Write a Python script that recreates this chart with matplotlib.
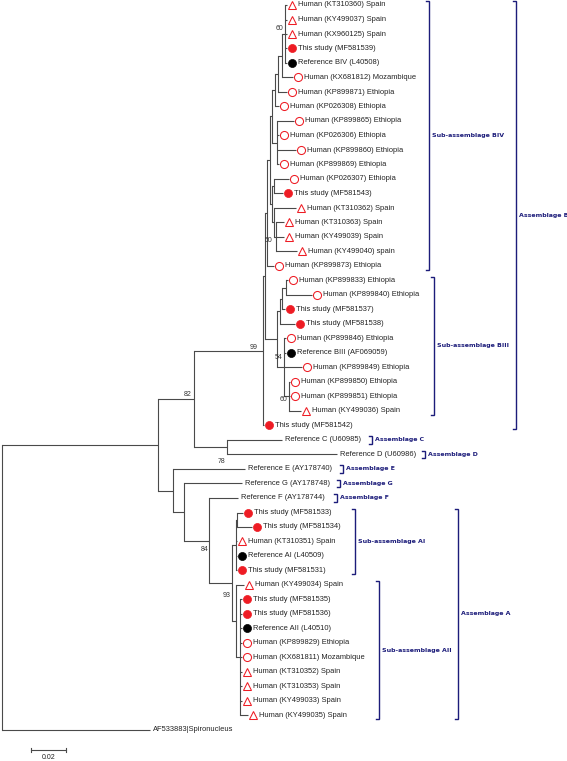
import matplotlib
matplotlib.use("Agg")
import matplotlib.pyplot as plt
from matplotlib.transforms import offset_copy

# ---------------- data ----------------
leaf_labels = [
    "Human (KT310360) Spain", "Human (KY499037) Spain", "Human (KX960125) Spain",
    "This study (MF581539)", "Reference BIV (L40508)", "Human (KX681812) Mozambique",
    "Human (KP899871) Ethiopia", "Human (KP026308) Ethiopia", "Human (KP899865) Ethiopia",
    "Human (KP026306) Ethiopia", "Human (KP899860) Ethiopia", "Human (KP899869) Ethiopia",
    "Human (KP026307) Ethiopia", "This study (MF581543)", "Human (KT310362) Spain",
    "Human (KT310363) Spain", "Human (KY499039) Spain", "Human (KY499040) spain",
    "Human (KP899873) Ethiopia", "Human (KP899833) Ethiopia", "Human (KP899840) Ethiopia",
    "This study (MF581537)", "This study (MF581538)", "Human (KP899846) Ethiopia",
    "Reference BIII (AF069059)", "Human (KP899849) Ethiopia", "Human (KP899850) Ethiopia",
    "Human (KP899851) Ethiopia", "Human (KY499036) Spain", "This study (MF581542)",
    "Reference C (U60985)", "Reference D (U60986)", "Reference E (AY178740)",
    "Reference G (AY178748)", "Reference F (AY178744)", "This study (MF581533)",
    "This study (MF581534)", "Human (KT310351) Spain", "Reference AI (L40509)",
    "This study (MF581531)", "Human (KY499034) Spain", "This study (MF581535)",
    "This study (MF581536)", "Reference AII (L40510)", "Human (KP899829) Ethiopia",
    "Human (KX681811) Mozambique", "Human (KT310352) Spain", "Human (KT310353) Spain",
    "Human (KY499033) Spain", "Human (KY499035) Spain", "AF533883|Spironucleus",
]
# tri = open triangle, oc = open circle, rd = red dot, bd = black dot, '' = none
leaf_markers = [
    "tri", "tri", "tri", "rd", "bd", "oc", "oc", "oc", "oc", "oc", "oc", "oc", "oc",
    "rd", "tri", "tri", "tri", "tri", "oc", "oc", "oc", "rd", "rd", "oc", "bd", "oc",
    "oc", "oc", "tri", "rd", "", "", "", "", "", "rd", "rd", "tri", "bd", "rd", "tri",
    "rd", "rd", "bd", "oc", "oc", "tri", "tri", "tri", "tri", "",
]

clade_BIV = ("(((((((0:0.0011,1:0.0011,2:0.0011,3:0.0011,4:0.0011)60:0.0017,5:0.0063):0.0023,"
             "6:0.0051):0.0017,7:0.0023):0.0017,(8:0.0097,9:0.0011,10:0.0109,11:0.0011):0.0029):0.0011,"
             "((12:0.0086,13:0.0051):0.0011,(14:0.0126,(15:0.0046,16:0.0046,17:0.0120)50:0.0011):0.0011)"
             ":0.0011):0.0017,18:0.0040)")
clade_BIII = ("((((19:0.0011,20:0.0149):0.0023,21:0.0017):0.0011,22:0.0086):0.0017,"
              "(23:0.0011,24:0.0011,25:0.0103,(26:0.0006,27:0.0006,28:0.0069)60:0.0029)54:0.0040)")
clade_CD = "(30:0.0314,31:0.0629)78"
clade_A = ("(((35:0.0034,36:0.0086):0.0006,37:0.0006,38:0.0006,39:0.0006):0.0023,"
           "(40:0.0046,(41:0.0011,42:0.0011,43:0.0011,44:0.0011,45:0.0011,46:0.0011,47:0.0011,"
           "48:0.0011,49:0.0046):0.0023):0.0023)93")
newick = ("(((((" + clade_BIV + ":0.0011," + clade_BIII + ":0.0069):0.0011,29:0.0006)99:0.0394,"
          + clade_CD + ":0.0189)82:0.0206,(32:0.0411,(33:0.0331,(34:0.0166," + clade_A
          + ":0.0131)84:0.0143):0.0063):0.0086):0.0891,50:0.0846);")

# group brackets: label, first row, last row, bracket x (px)
brackets = [
    ("Sub-assemblage BIV", 0, 18, 429),
    ("Sub-assemblage BIII", 19, 28, 434),
    ("Assemblage B", 0, 29, 516),
    ("Assemblage C", 30, 30, 372),
    ("Assemblage D", 31, 31, 425),
    ("Assemblage E", 32, 32, 343),
    ("Assemblage G", 33, 33, 340),
    ("Assemblage F", 34, 34, 337),
    ("Sub-assemblage AI", 35, 39, 355),
    ("Sub-assemblage AII", 40, 49, 379),
    ("Assemblage A", 35, 49, 458),
]
scale_length = 0.02

# bootstrap label offsets (dx px, dy px, down positive), keyed by leaf span
support_offsets = {(0, 4): (-1, -5), (15, 17): (-3, 3), (0, 29): (-5, -3),
                   (23, 28): (-1, -10), (26, 28): (-2, 3), (0, 31): (-2, -5),
                   (30, 31): (-2, 14), (34, 49): (-1, 9), (35, 49): (-1, 12)}

# ---------------- parse & layout ----------------
def parse(s):
    pos = 0

    def node():
        nonlocal pos
        children = []
        if s[pos] == "(":
            pos += 1
            while True:
                children.append(node())
                if s[pos] == ",":
                    pos += 1
                    continue
                if s[pos] == ")":
                    pos += 1
                    break
        start = pos
        while pos < len(s) and s[pos] not in ":,();":
            pos += 1
        name = s[start:pos]
        length = 0.0
        if pos < len(s) and s[pos] == ":":
            pos += 1
            start = pos
            while s[pos] not in ",();":
                pos += 1
            length = float(s[start:pos])
        return {"children": children, "name": name, "len": length}

    return node()


root = parse(newick)


def layout(n, depth):
    n["x"] = depth + n["len"]
    if n["children"]:
        for c in n["children"]:
            layout(c, n["x"])
        n["y"] = (n["children"][0]["y"] + n["children"][-1]["y"]) / 2
        n["rows"] = (n["children"][0]["rows"][0], n["children"][-1]["rows"][1])
    else:
        i = int(n["name"])
        n["y"] = i
        n["rows"] = (i, i)


layout(root, 0.0)

# ---------------- draw ----------------
W, H = 567, 761
PX = scale_length / 35.0          # data units per pixel (x)
ROW_PX = 14.5                     # pixels per row (y)
fig = plt.figure(figsize=(W / 100, H / 100), dpi=100)
ax = fig.add_axes([0, 0, 1, 1])
ax.set_xlim(-2 * PX, (W - 2) * PX)
ax.set_ylim((H - 5) / ROW_PX, -5 / ROW_PX)
ax.axis("off")

LC = "#4a4a4a"
LW = 0.8
RED = "#ee1c24"
NAVY = "#1c1c7a"
TXT = "#222222"


def draw(n):
    if not n["children"]:
        return
    ch = n["children"]
    ax.plot([n["x"], n["x"]], [ch[0]["y"], ch[-1]["y"]], color=LC, lw=LW,
            solid_capstyle="projecting")
    for c in ch:
        ax.plot([n["x"], c["x"]], [c["y"], c["y"]], color=LC, lw=LW,
                solid_capstyle="butt")
        draw(c)
    if n["name"]:
        dx, dy = support_offsets.get(n["rows"], (-1, -4))
        tr = offset_copy(ax.transData, x=dx, y=-dy, units="dots")
        ax.text(n["x"], n["y"], n["name"], transform=tr, ha="right", va="center",
                fontsize=5, family="Liberation Sans", color="#333333")


draw(root)


def leaves(n):
    if not n["children"]:
        yield n
    for c in n["children"]:
        yield from leaves(c)


mk_tr = offset_copy(ax.transData, x=5, y=0, units="dots")
txt_mk = offset_copy(ax.transData, x=11, y=0, units="dots")
txt_no = offset_copy(ax.transData, x=3, y=0, units="dots")
for lf in leaves(root):
    i = int(lf["name"])
    m = leaf_markers[i]
    if m == "tri":
        ax.plot(lf["x"], lf["y"], marker="^", ms=6.0, mfc="none", mec=RED, mew=0.75,
                transform=mk_tr)
    elif m == "oc":
        ax.plot(lf["x"], lf["y"], marker="o", ms=5.8, mfc="none", mec=RED, mew=0.75,
                transform=mk_tr)
    elif m == "rd":
        ax.plot(lf["x"], lf["y"], marker="o", ms=5.8, mfc=RED, mec=RED, mew=0.5,
                transform=mk_tr)
    elif m == "bd":
        ax.plot(lf["x"], lf["y"], marker="o", ms=5.8, mfc="black", mec="black", mew=0.5,
                transform=mk_tr)
    ax.text(lf["x"], lf["y"], leaf_labels[i], transform=txt_mk if m else txt_no,
            ha="left", va="center", fontsize=5.4, family="Liberation Sans", color=TXT)

# brackets
pad = 0.26
tick = 3 * PX
for label, r0, r1, xp in brackets:
    bx = (xp - 2) * PX
    ya, yb = r0 - pad, r1 + pad
    ax.plot([bx - tick, bx, bx, bx - tick], [ya, ya, yb, yb], color=NAVY, lw=1.0,
            solid_joinstyle="miter")
    ax.text(bx + 3 * PX, (r0 + r1) / 2, label, ha="left", va="center", fontsize=4.5,
            family="DejaVu Sans", fontweight="bold", color=NAVY)

# scale bar
sx0 = (31 - 2) * PX
sy = (750 - 5) / ROW_PX
ax.plot([sx0, sx0 + scale_length], [sy, sy], color=LC, lw=LW)
for xx in (sx0, sx0 + scale_length):
    ax.plot([xx, xx], [sy - 0.15, sy + 0.15], color=LC, lw=LW)
ax.text(sx0 + scale_length / 2, sy + 0.3, "0.02", ha="center", va="top", fontsize=5,
        family="Liberation Sans", color=TXT)

fig.savefig("out.png", dpi=100, facecolor="white")
